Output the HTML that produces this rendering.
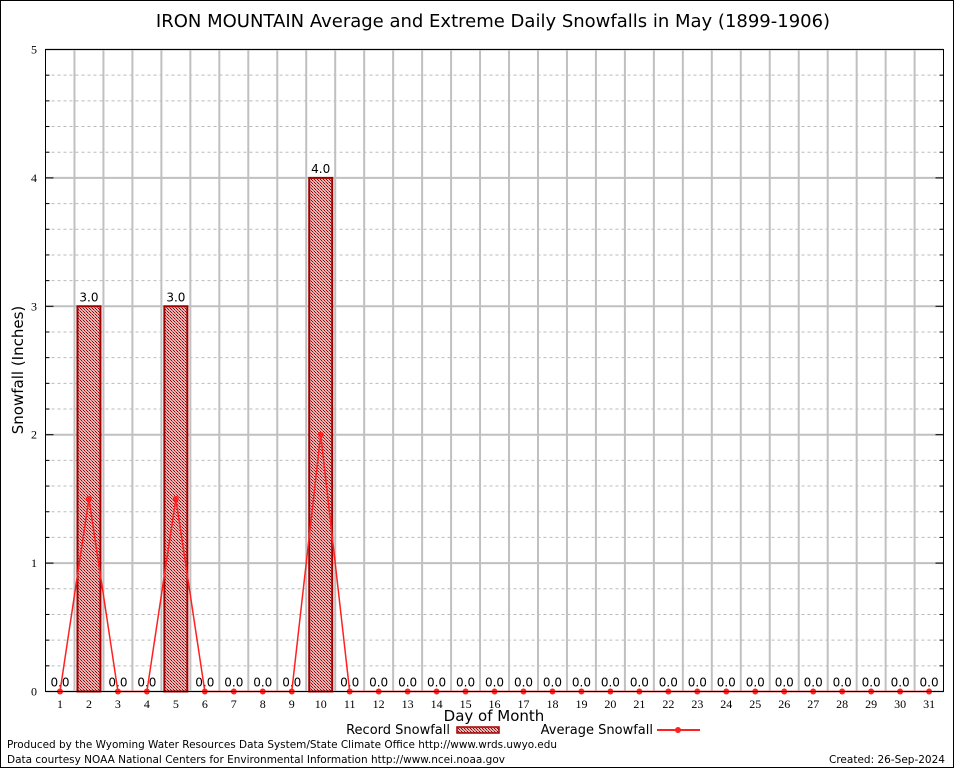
<!DOCTYPE html>
<html><head><meta charset="utf-8"><style>
body{margin:0;background:#fff}
svg{display:block;font-family:"DejaVu Sans","Liberation Sans",sans-serif}
</style></head><body>
<svg id="chart" width="954" height="768" viewBox="0 0 954 768">
<defs>
<pattern id="hatch" width="3" height="3" patternUnits="userSpaceOnUse">
<rect width="3" height="3" fill="#e0b8b8"/>
<rect width="1" height="1" fill="#a00000"/><rect x="2" y="2" width="1" height="1" fill="#a00000"/><rect x="1" y="1" width="1" height="1" fill="#c05050"/>
</pattern>
</defs>
<rect x="0.5" y="0.5" width="953" height="767" fill="#fff" stroke="#000"/>
<text x="493" y="27" font-size="18" text-anchor="middle">IRON MOUNTAIN Average and Extreme Daily Snowfalls in May (1899-1906)</text>
<g id="grid"></g>
<g id="bars"></g>
<g id="line"></g>
<rect x="45.5" y="49.5" width="898" height="642" fill="none" stroke="#000"/>
<g id="axes" font-family="Liberation Serif, serif" font-size="12"></g>
<text x="23" y="370" font-size="15" text-anchor="middle" transform="rotate(-90 23 370)">Snowfall (Inches)</text>
<text x="494" y="721" font-size="15" text-anchor="middle">Day of Month</text>
<g>
<text x="450" y="734" font-size="13" text-anchor="end">Record Snowfall</text>
<rect x="457" y="727" width="42" height="6" fill="url(#hatch)" stroke="#a00000" stroke-width="1.5"/>
<text x="653" y="734" font-size="13" text-anchor="end">Average Snowfall</text>
<line x1="657" y1="730" x2="700" y2="730" stroke="#ff2020" stroke-width="2"/>
<circle cx="678" cy="730" r="3" fill="#ff2020"/>
</g>
<text x="7" y="748" font-size="11" textLength="550" lengthAdjust="spacingAndGlyphs">Produced by the Wyoming Water Resources Data System/State Climate Office http://www.wrds.uwyo.edu</text>
<text x="7" y="763" font-size="11" textLength="498" lengthAdjust="spacingAndGlyphs">Data courtesy NOAA National Centers for Environmental Information http://www.ncei.noaa.gov</text>
<text x="829" y="763" font-size="11" textLength="116" lengthAdjust="spacingAndGlyphs">Created: 26-Sep-2024</text>
</svg>
<script>
const days=[1,2,3,4,5,6,7,8,9,10,11,12,13,14,15,16,17,18,19,20,21,22,23,24,25,26,27,28,29,30,31];
const recordSnow=[0,3,0,0,3,0,0,0,0,4,0,0,0,0,0,0,0,0,0,0,0,0,0,0,0,0,0,0,0,0,0];
const avgSnow=[0,1.5,0,0,1.5,0,0,0,0,2,0,0,0,0,0,0,0,0,0,0,0,0,0,0,0,0,0,0,0,0,0];
const yTicks=[0,1,2,3,4,5];
const NS='http://www.w3.org/2000/svg';
const X=d=>45.5+(d-0.5)*28.97;
const Y=v=>691.5-v*128.4;
function mk(tag,attrs,parent){const e=document.createElementNS(NS,tag);for(const k in attrs)e.setAttribute(k,attrs[k]);parent.appendChild(e);return e;}
const grid=document.getElementById('grid'),bars=document.getElementById('bars'),line=document.getElementById('line'),axes=document.getElementById('axes');
for(let i=1;i<25;i++){if(i%5===0)continue;const v=i/5;
 const l=mk('line',{x1:45.5,x2:943.5,y1:Y(v),y2:Y(v),stroke:'#bbb','stroke-dasharray':'3,3'},grid);
 
 
 const t1=mk('line',{x1:45.5,x2:49.5,y1:Y(v),y2:Y(v),stroke:'#000'},axes);
 
 
 const t2=mk('line',{x1:939.5,x2:943.5,y1:Y(v),y2:Y(v),stroke:'#000'},axes);
 
 }
yTicks.forEach(v=>{
 const l=mk('line',{x1:45.5,x2:943.5,y1:Y(v),y2:Y(v),stroke:'#c0c0c0','stroke-width':2},grid);
 
 
 const t=mk('line',{x1:45.5,x2:53.5,y1:Y(v),y2:Y(v),stroke:'#000'},axes);
 
 
 const t2=mk('line',{x1:935.5,x2:943.5,y1:Y(v),y2:Y(v),stroke:'#000'},axes);
 
 
 const lb=mk('text',{x:37,y:Y(v)+4,'text-anchor':'end'},axes);lb.textContent=v;
 
 });
days.forEach((d,i)=>{
 if(i<days.length-1){const g=mk('line',{x1:X(d+0.5),x2:X(d+0.5),y1:49.5,y2:691.5,stroke:'#c0c0c0','stroke-width':2},grid);
 
 }
 const lb=mk('text',{x:X(d),y:708,'text-anchor':'middle'},axes);lb.textContent=d;
 
 
 const v=recordSnow[i];
 if(v>0){const r=mk('rect',{x:X(d)-11.5,y:Y(v),width:23,height:Y(0)-Y(v),fill:'url(#hatch)',stroke:'#a00000','stroke-width':2},bars);
 
 }
 const t=mk('text',{x:X(d),y:Y(v)-5,'text-anchor':'middle','font-size':12},bars);t.textContent=v.toFixed(1);
 
 });
const pl=mk('polyline',{points:days.map((d,i)=>X(d)+','+Y(avgSnow[i])).join(' '),fill:'none',stroke:'#ff2020','stroke-width':1.5},line);


days.forEach((d,i)=>{const c=mk('circle',{cx:X(d),cy:Y(avgSnow[i]),r:3,fill:'#ff2020'},line);
 
 });
</script>
</body></html>
